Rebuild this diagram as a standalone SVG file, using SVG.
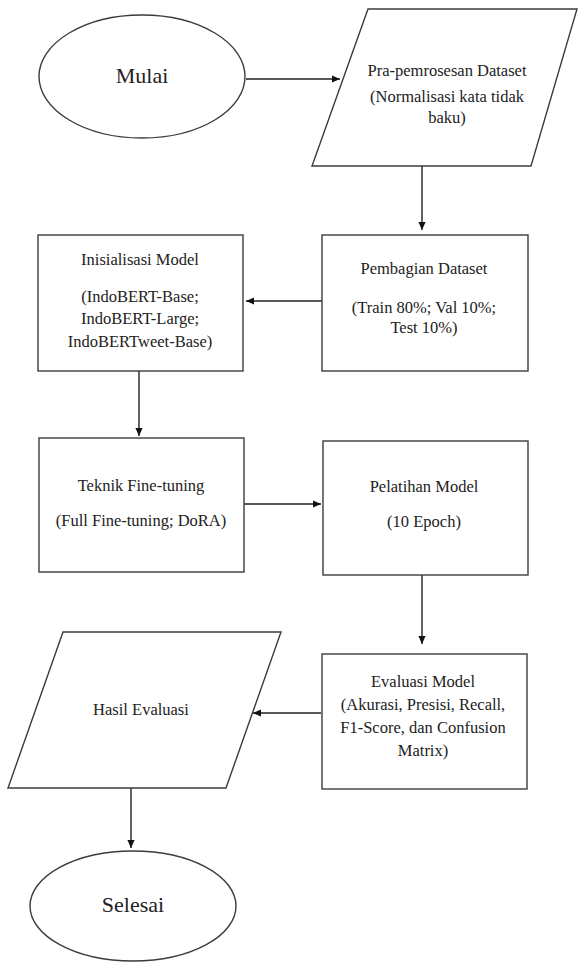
<svg xmlns="http://www.w3.org/2000/svg" width="578" height="962" viewBox="0 0 578 962">
<defs>
<style>
.s{fill:#fff;stroke:#3c3c3c;stroke-width:1.4}
.t{font-family:"Liberation Serif","Times New Roman",serif;font-size:16.5px;fill:#222;text-anchor:middle}
.b{font-family:"Liberation Serif","Times New Roman",serif;font-size:22px;fill:#222;text-anchor:middle}
.c{fill:none;stroke:#222;stroke-width:1.4}
</style>
<marker id="ah" viewBox="0 0 10 10" refX="10" refY="5" markerWidth="8" markerHeight="8" markerUnits="userSpaceOnUse" orient="auto">
<path d="M0,0.5 L10,5 L0,9.5 z" fill="#111"/>
</marker>
</defs>
<rect width="578" height="962" fill="#fff"/>
<g id="connectors">
<line class="c" x1="246" y1="79" x2="340" y2="79" marker-end="url(#ah)"/>
<line class="c" x1="422" y1="166" x2="422" y2="230" marker-end="url(#ah)"/>
<line class="c" x1="322" y1="301" x2="246" y2="301" marker-end="url(#ah)"/>
<line class="c" x1="139" y1="371" x2="139" y2="436" marker-end="url(#ah)"/>
<line class="c" x1="244" y1="504" x2="321" y2="504" marker-end="url(#ah)"/>
<line class="c" x1="422" y1="575" x2="422" y2="644" marker-end="url(#ah)"/>
<line class="c" x1="321" y1="713" x2="253" y2="713" marker-end="url(#ah)"/>
<line class="c" x1="131" y1="788" x2="131" y2="848" marker-end="url(#ah)"/>
</g>
<g id="mulai">
<ellipse class="s" cx="142" cy="76.5" rx="103" ry="61.5"/>
<text class="b" x="142" y="83">Mulai</text>
</g>
<g id="pra">
<polygon class="s" points="368,9 577,9 531,166 312,166"/>
<text class="t" x="447" y="76">Pra-pemrosesan Dataset</text>
<text class="t" x="447" y="102">(Normalisasi kata tidak</text>
<text class="t" x="447" y="123">baku)</text>
</g>
<g id="pembagian">
<rect class="s" x="322" y="235" width="206" height="136"/>
<text class="t" x="424" y="274">Pembagian Dataset</text>
<text class="t" x="424" y="313">(Train 80%; Val 10%;</text>
<text class="t" x="424" y="333">Test 10%)</text>
</g>
<g id="inisialisasi">
<rect class="s" x="38" y="235" width="205" height="136"/>
<text class="t" x="140" y="265">Inisialisasi Model</text>
<text class="t" x="140" y="302">(IndoBERT-Base;</text>
<text class="t" x="140" y="324">IndoBERT-Large;</text>
<text class="t" x="140" y="347">IndoBERTweet-Base)</text>
</g>
<g id="teknik">
<rect class="s" x="39" y="438" width="205" height="134"/>
<text class="t" x="141" y="491">Teknik Fine-tuning</text>
<text class="t" x="141" y="526">(Full Fine-tuning; DoRA)</text>
</g>
<g id="pelatihan">
<rect class="s" x="323" y="441" width="205" height="134"/>
<text class="t" x="424" y="492">Pelatihan Model</text>
<text class="t" x="424" y="527">(10 Epoch)</text>
</g>
<g id="evaluasi">
<rect class="s" x="322" y="654" width="205" height="135"/>
<text class="t" x="423" y="687">Evaluasi Model</text>
<text class="t" x="423" y="710">(Akurasi, Presisi, Recall,</text>
<text class="t" x="423" y="733">F1-Score, dan Confusion</text>
<text class="t" x="423" y="756">Matrix)</text>
</g>
<g id="hasil">
<polygon class="s" points="63,632 281,632 226,788 8,788"/>
<text class="t" x="141" y="715">Hasil Evaluasi</text>
</g>
<g id="selesai">
<ellipse class="s" cx="133" cy="906" rx="103" ry="55"/>
<text class="b" x="133" y="912">Selesai</text>
</g>
</svg>
